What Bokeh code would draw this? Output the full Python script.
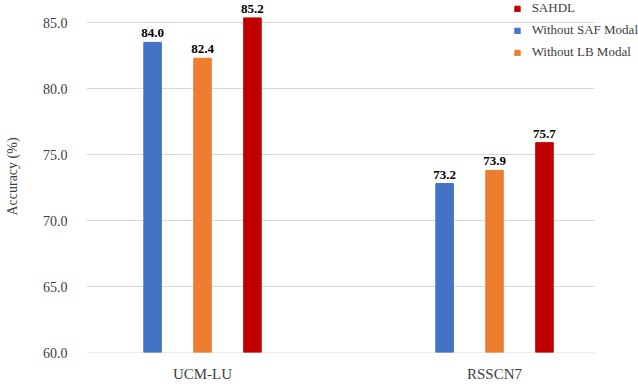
from bokeh.plotting import figure
from bokeh.models import ColumnDataSource, Range1d, FixedTicker, NumeralTickFormatter, Legend, LegendItem
from bokeh.core.properties import value
from bokeh.embed import file_html
from bokeh.resources import INLINE

# ---- data ----
categories = ["UCM-LU", "RSSCN7"]
series_names = ["Without SAF Modal", "Without LB Modal", "SAHDL"]
saf_values = [83.5, 72.8]      # bar heights
lb_values = [82.3, 73.8]
sahdl_values = [85.35, 75.9]
saf_labels = ["84.0", "73.2"]
lb_labels = ["82.4", "73.9"]
sahdl_labels = ["85.2", "75.7"]
y_ticks = [60, 65, 70, 75, 80, 85]

colors = {"Without SAF Modal": "#4472C4", "Without LB Modal": "#ED7D31", "SAHDL": "#C00000"}
offsets = {"Without SAF Modal": -0.171, "Without LB Modal": 0.0, "SAHDL": 0.171}
series_vals = {"Without SAF Modal": saf_values, "Without LB Modal": lb_values, "SAHDL": sahdl_values}
series_labels = {"Without SAF Modal": saf_labels, "Without LB Modal": lb_labels, "SAHDL": sahdl_labels}

FONT = "Liberation Serif"
X_START, X_GRID_END, X_END = 0.1027, 1.8425, 1.993
Y_START, Y_END = 60, 86.67

p = figure(width=638, height=384, output_backend="svg", toolbar_location=None,
           x_range=Range1d(X_START, X_END), y_range=Range1d(Y_START, Y_END),
           min_border_left=86, min_border_right=0, min_border_top=0, min_border_bottom=32)
p.outline_line_color = None
p.background_fill_color = "white"

# horizontal grid lines (ending short of the legend column, as in the reference)
p.segment(x0=[X_START] * len(y_ticks), x1=[X_GRID_END] * len(y_ticks), y0=y_ticks, y1=y_ticks,
          line_color="#D9D9D9", line_width=1)

renderers = {}
for name in series_names:
    xs = [i + 0.5 + offsets[name] for i in range(len(categories))]
    src = ColumnDataSource(dict(x=xs, top=series_vals[name], lab=series_labels[name]))
    r = p.vbar(x="x", top="top", bottom=Y_START, width=0.06, source=src,
               fill_color=colors[name], line_color=colors[name])
    renderers[name] = r
    p.text(x="x", y="top", text="lab", source=src, text_align="center", text_baseline="bottom",
           y_offset=-5, text_font=value(FONT), text_font_size="13px", text_font_style="bold",
           text_color="#000000")

# axes
p.xaxis.ticker = FixedTicker(ticks=[i + 0.5 for i in range(len(categories))])
p.xaxis.major_label_overrides = {i + 0.5: c for i, c in enumerate(categories)}
p.yaxis.ticker = FixedTicker(ticks=y_ticks)
p.yaxis.formatter = NumeralTickFormatter(format="0.0")
for ax in (p.xaxis, p.yaxis):
    ax.axis_line_color = None
    ax.major_tick_line_color = None
    ax.minor_tick_line_color = None
    ax.major_tick_out = 0
    ax.major_tick_in = 0
    ax.minor_tick_out = 0
    ax.minor_tick_in = 0
    ax.major_label_text_font = FONT
    ax.major_label_text_color = "#404040"
p.yaxis.major_label_text_font_size = "14px"
p.xaxis.major_label_text_font_size = "15px"
p.xaxis.major_label_standoff = 13
p.yaxis.major_label_standoff = 19
p.yaxis.axis_label = "Accuracy (%)"
p.yaxis.axis_label_text_font = FONT
p.yaxis.axis_label_text_font_size = "14px"
p.yaxis.axis_label_text_font_style = "normal"
p.yaxis.axis_label_text_color = "#404040"
p.yaxis.axis_label_standoff = 20

p.xgrid.grid_line_color = None
p.ygrid.grid_line_color = None

legend_order = ["SAHDL", "Without SAF Modal", "Without LB Modal"]
legend = Legend(items=[LegendItem(label=n, renderers=[renderers[n]]) for n in legend_order],
                location="top_right", orientation="vertical",
                glyph_width=7, glyph_height=7, label_height=16, spacing=6,
                label_standoff=11, padding=0, margin=0,
                label_text_font=FONT, label_text_font_size="13px", label_text_color="#404040",
                background_fill_alpha=0, border_line_color=None)
p.add_layout(legend, "center")

open("out.html", "w").write(file_html(p, INLINE))
